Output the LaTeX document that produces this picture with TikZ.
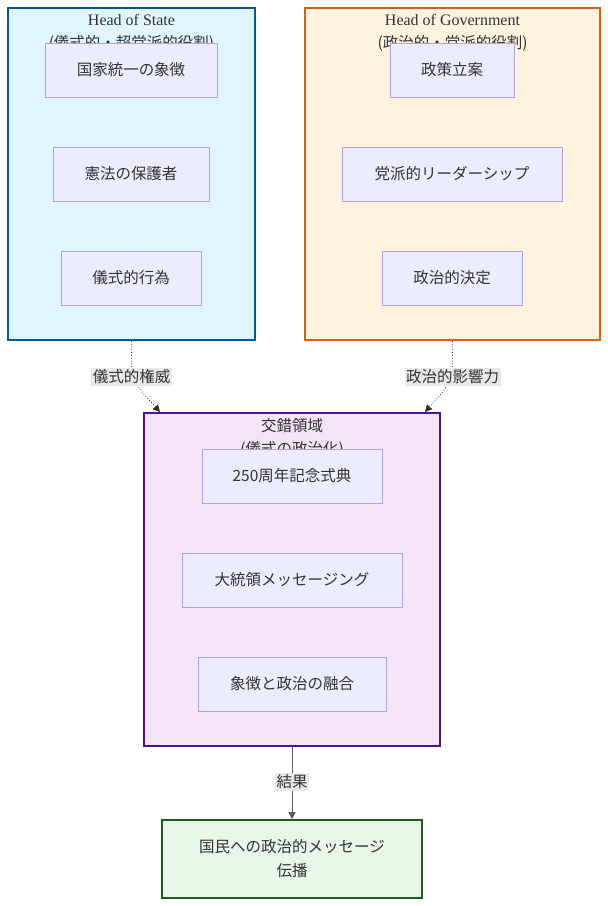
\documentclass[tikz,border=0pt]{standalone}
\usepackage{fontspec}
\setmainfont{Liberation Serif}
\newfontfamily\cjk{Noto Sans CJK JP}
\usetikzlibrary{arrows.meta}
\definecolor{txt}{HTML}{333333}
\definecolor{hosfill}{HTML}{E1F5FE}
\definecolor{hosdraw}{HTML}{01579B}
\definecolor{hogfill}{HTML}{FFF3E0}
\definecolor{hogdraw}{HTML}{D4621A}
\definecolor{ixfill}{HTML}{F3E5F5}
\definecolor{ixdraw}{HTML}{4A148C}
\definecolor{outfill}{HTML}{E8F5E9}
\definecolor{outdraw}{HTML}{1B5E20}
\definecolor{nodefill}{HTML}{ECECFF}
\definecolor{nodedraw}{HTML}{B3A2E0}
\definecolor{lblfill}{HTML}{E8E8E8}
\tikzset{
  cluster/.style={draw, line width=2pt, inner sep=0pt},
  inbox/.style={draw=nodedraw, fill=nodefill, line width=1pt, text=txt,
    minimum height=54pt, inner sep=0pt, font=\cjk\fontsize{15.5}{19}\selectfont},
  ctitle/.style={text=txt, inner sep=0pt, font=\fontsize{16}{19}\selectfont},
  csub/.style={text=txt, inner sep=0pt, font=\cjk\fontsize{15.5}{19}\selectfont},
  elabel/.style={fill=lblfill, text=txt, inner sep=1.5pt, font=\cjk\fontsize{15.5}{19}\selectfont},
  conn/.style={draw=txt, line width=0.8pt, -{Triangle[length=7pt,width=7pt]}},
}
\begin{document}
\begin{tikzpicture}[x=1pt,y=-1pt]
\path[use as bounding box, fill=white] (0,0) rectangle (608,906);

% clusters
\node[cluster, draw=hosdraw, fill=hosfill, minimum width=247pt, minimum height=332pt] (hos) at (131.5,174) {};
\node[cluster, draw=hogdraw, fill=hogfill, minimum width=295pt, minimum height=332pt] (hog) at (452.5,174) {};
\node[cluster, draw=ixdraw, fill=ixfill, minimum width=296pt, minimum height=333pt] (ix) at (292,579.5) {};

% cluster titles
\node[ctitle] (hosT) at (131.5,20) {Head of State};
\node[csub] (hosS) at (131.5,43) {(儀式的・超党派的役割)};
\node[ctitle] (hogT) at (452.5,20) {Head of Government};
\node[csub] (hogS) at (452.5,43) {(政治的・党派的役割)};
\node[csub] (ixT) at (292,426) {交錯領域};
\node[csub] (ixS) at (292,449) {(儀式の政治化)};

% inner nodes
\node[inbox, minimum width=172pt] (s1) at (131,70) {国家統一の象徴};
\node[inbox, minimum width=156pt] (s2) at (131,174) {憲法の保護者};
\node[inbox, minimum width=140pt] (s3) at (131,278) {儀式的行為};
\node[inbox, minimum width=124pt] (g1) at (452,70) {政策立案};
\node[inbox, minimum width=220pt] (g2) at (452,174) {党派的リーダーシップ};
\node[inbox, minimum width=140pt] (g3) at (452,278) {政治的決定};
\node[inbox, minimum width=180pt] (i1) at (292,476) {250周年記念式典};
\node[inbox, minimum width=220pt] (i2) at (292,580) {大統領メッセージング};
\node[inbox, minimum width=188pt] (i3) at (292,684) {象徴と政治の融合};

% output node
\node[draw=outdraw, fill=outfill, line width=1.6pt, minimum width=260pt, minimum height=78pt,
  inner sep=0pt, text=txt, align=center, font=\cjk\fontsize{15.5}{24}\selectfont] (out) at (292,859)
  {国民への政治的メッセージ\\伝播};

% connectors
\coordinate (a1) at (131.5,362);
\coordinate (a2) at (160,412);
\coordinate (b1) at (452.5,362);
\coordinate (b2) at (425,412);
\draw[conn, dotted] (hos.south) -- (a1) .. controls (131.5,385) and (145,395) .. (a2);
\draw[conn, dotted] (hog.south) -- (b1) .. controls (452.5,385) and (440,395) .. (b2);
\draw[conn, draw=txt!80] (ix.south) -- (out.north);

% edge labels
\node[elabel] (l1) at (131.5,377) {儀式的権威};
\node[elabel] (l2) at (452.5,377) {政治的影響力};
\node[elabel] (l3) at (292,782) {結果};
\end{tikzpicture}
\end{document}
